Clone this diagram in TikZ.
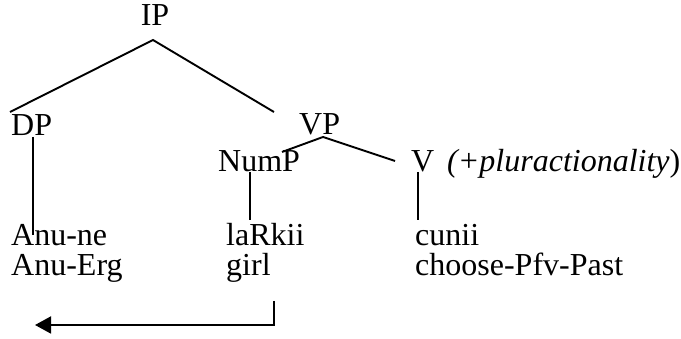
\documentclass[tikz,border=0pt]{standalone}
\usepackage{fontspec}
\setmainfont{Liberation Serif}
\usetikzlibrary{arrows.meta}
\begin{document}
\begin{tikzpicture}[x=1pt,y=-1pt,
  lbl/.style={inner sep=0pt,anchor=base west,font=\fontsize{32}{36}\selectfont},
  branch/.style={line width=1.9pt},
  movearrow/.style={line width=1.9pt,-{Triangle[length=16pt,width=17pt]}}]
\useasboundingbox (0,0) rectangle (681,339);

% category labels
\node[lbl,anchor=base] (IP) at (155,26) {IP};
\node[lbl] (DP) at (11,136) {DP};
\node[lbl] (VP) at (299,135) {VP};
\node[lbl] (NumP) at (218,172) {NumP};
\node[lbl] (V) at (411,172) {V};
\node[lbl] (feat) at (447,172) {\textit{(+pluractionality})};

% words and glosses
\node[lbl] (w1) at (11,246) {Anu-ne};
\node[lbl] (g1) at (11,276) {Anu-Erg};
\node[lbl] (w2) at (226,246) {laRkii};
\node[lbl] (g2) at (226,276) {girl};
\node[lbl] (w3) at (415,246) {cunii};
\node[lbl] (g3) at (415,276) {choose-Pfv-Past};

% branch points and line ends
\coordinate (ipfoot) at (153,40);
\coordinate (dptop) at (10,112);
\coordinate (vptop) at (274,112);
\coordinate (vpfoot) at (323,137);
\coordinate (numptop) at (282,152);
\coordinate (vtop) at (395,161);
\coordinate (dpfoot) at (33,137);
\coordinate (w1top) at (33,235);
\coordinate (numpfoot) at (250,172);
\coordinate (w2top) at (250,220);
\coordinate (vfoot) at (418,172);
\coordinate (w3top) at (418,220);
\coordinate (g2foot) at (274,301);
\coordinate (bend) at (274,325);
\coordinate (target) at (35,325);

\draw[branch] (dptop) -- (ipfoot) -- (vptop);
\draw[branch] (numptop) -- (vpfoot) -- (vtop);
\draw[branch] (dpfoot) -- (w1top);
\draw[branch] (numpfoot) -- (w2top);
\draw[branch] (vfoot) -- (w3top);
\draw[movearrow] (g2foot) -- (bend) -- (target);
\end{tikzpicture}
\end{document}
